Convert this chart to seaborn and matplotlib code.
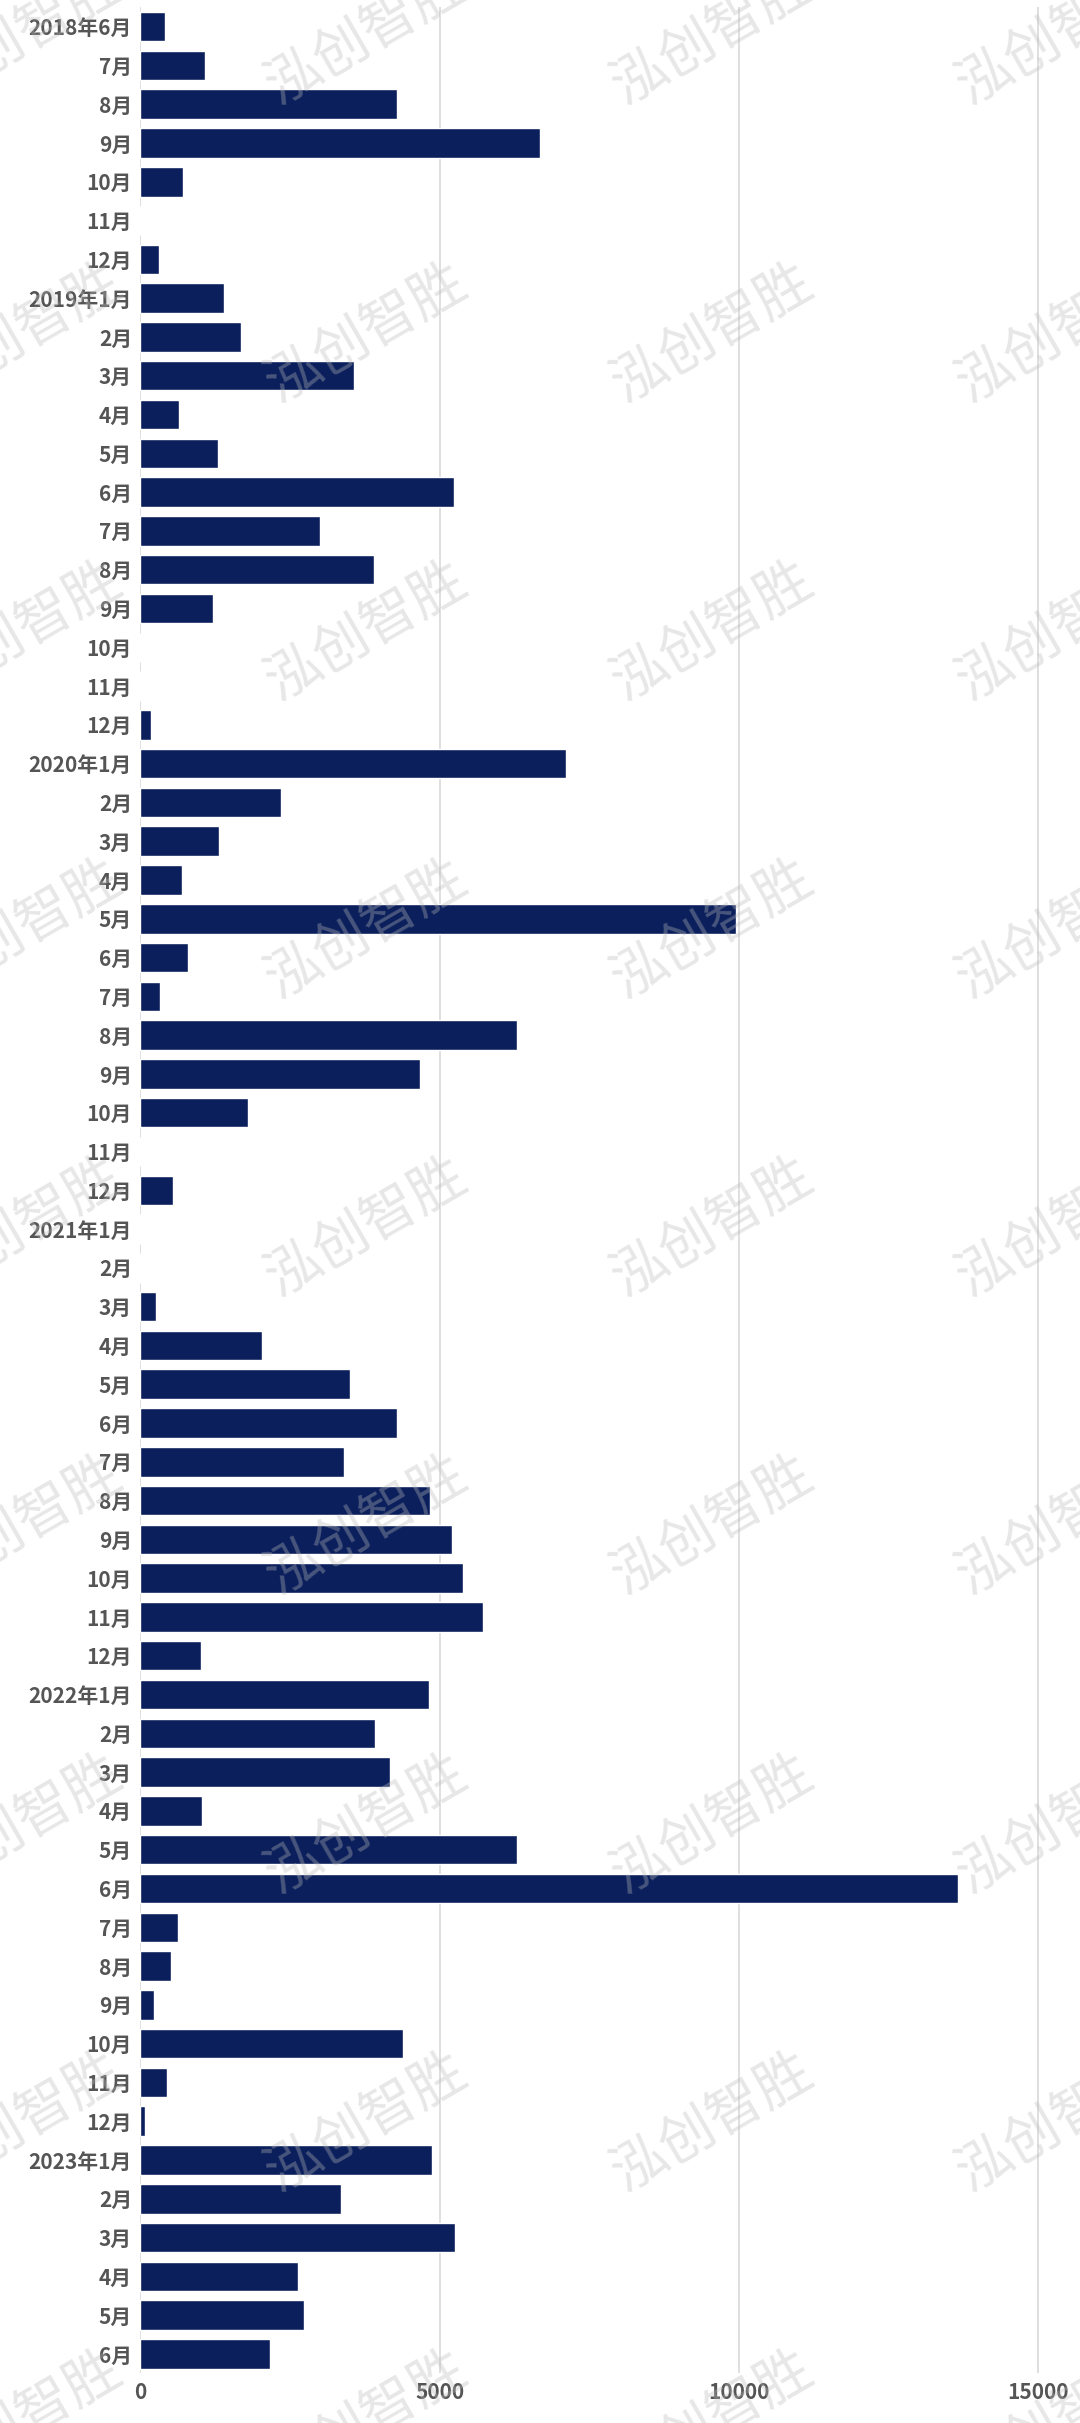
import matplotlib
matplotlib.use("Agg")
import matplotlib.pyplot as plt
import seaborn as sns
import pandas as pd

sns.set_theme(style="white")
plt.rcParams['font.family'] = ['Noto Sans CJK SC', 'DejaVu Sans']

labels = ["2018年6月", "7月", "8月", "9月", "10月", "11月", "12月",
          "2019年1月", "2月", "3月", "4月", "5月", "6月", "7月", "8月", "9月", "10月", "11月", "12月",
          "2020年1月", "2月", "3月", "4月", "5月", "6月", "7月", "8月", "9月", "10月", "11月", "12月",
          "2021年1月", "2月", "3月", "4月", "5月", "6月", "7月", "8月", "9月", "10月", "11月", "12月",
          "2022年1月", "2月", "3月", "4月", "5月", "6月", "7月", "8月", "9月", "10月", "11月", "12月",
          "2023年1月", "2月", "3月", "4月", "5月", "6月"]
values = [410, 1085, 4290, 6670, 720, 0, 310,
          1395, 1680, 3570, 645, 1290, 5245, 3000, 3900, 1215, 0, 0, 180,
          7110, 2345, 1315, 700, 9950, 800, 335, 6290, 4665, 1805, 0, 540,
          0, 0, 260, 2035, 3505, 4280, 3400, 4845, 5205, 5385, 5720, 1005,
          4820, 3915, 4175, 1030, 6290, 13660, 620, 515, 230, 4380, 440, 80,
          4870, 3350, 5260, 2630, 2730, 2165]

df = pd.DataFrame({"pos": [str(i) for i in range(len(labels))], "value": values})

fig = plt.figure(figsize=(10.8, 24.23), dpi=100)
ax = fig.add_axes([0.13, 0.0205, 0.87, 0.9765])
sns.barplot(data=df, y="pos", x="value", orient="h", color="#0a1f5c",
            saturation=1, width=0.76, ax=ax)
ax.set_yticks(range(len(labels)))
ax.set_yticklabels(labels)
ax.set_xlim(0, 15700)
ax.set_ylim(len(labels) - 0.5, -0.5)
ax.set_xticks([0, 5000, 10000, 15000])
ax.set_xticklabels(["0", "5000", "10000", "15000"])
ax.xaxis.grid(True, color="#d9d9d9", linewidth=1.2)
ax.set_axisbelow(True)
ax.set_xlabel("")
ax.set_ylabel("")
for s in ax.spines.values():
    s.set_visible(False)
ax.tick_params(axis="both", length=0, labelsize=15, labelcolor="#555555", pad=6)
for t in ax.get_xticklabels() + ax.get_yticklabels():
    t.set_fontweight("bold")

for row in range(9):
    for col in range(4):
        fig.text(0.02 + col * 0.32 - (0.0 if row % 2 == 0 else 0.0),
                 0.985 - row * 0.123 - col * 0.0, "泓创智胜", fontsize=40,
                 color="#bbbbbb", alpha=0.35, rotation=30,
                 ha="center", va="center", zorder=10)

fig.savefig("out.png", dpi=100)
